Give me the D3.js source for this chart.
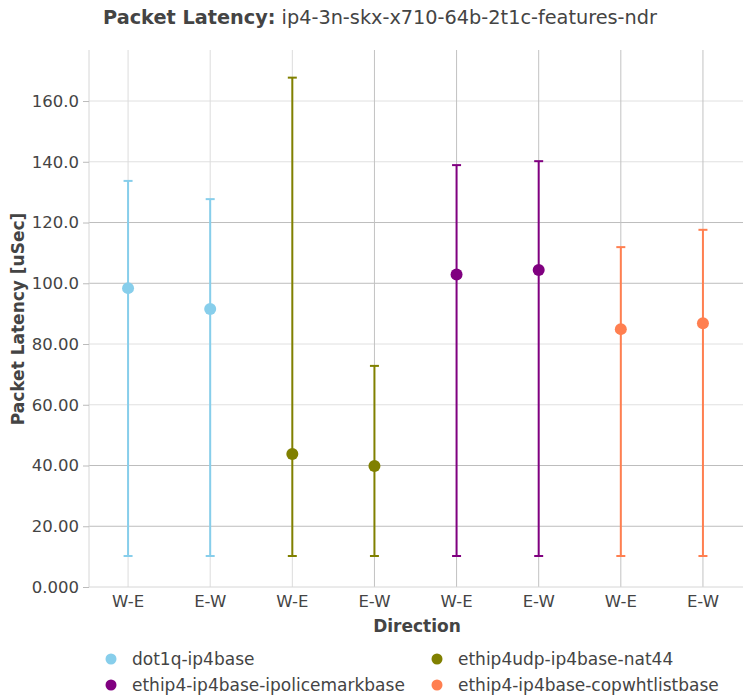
<!DOCTYPE html>
<html>
<head>
<meta charset="utf-8">
<script src="https://cdn.jsdelivr.net/npm/d3@7"></script>
<style>
  html, body { margin: 0; padding: 0; background: #fff; }
  svg { display: block; font-family: "DejaVu Sans", sans-serif; }
</style>
</head>
<body>
<svg id="chart" width="743" height="700"></svg>
<script>
// ---- data ----
const seriesNames = ["dot1q-ip4base", "ethip4udp-ip4base-nat44", "ethip4-ip4base-ipolicemarkbase", "ethip4-ip4base-copwhtlistbase"];
const seriesColors = ["#87CEEB", "#808000", "#800080", "#FF7F50"];
const directions = ["W-E", "E-W"];
const meanValues = [[98.4, 91.5], [43.8, 39.8], [102.9, 104.4], [84.9, 86.8]];
const maxValues = [[133.7, 127.7], [167.7, 72.8], [138.9, 140.2], [111.9, 117.6]];
const minValues = [[10.2, 10.2], [10.2, 10.2], [10.2, 10.2], [10.2, 10.2]];
const yTickValues = [0, 20, 40, 60, 80, 100, 120, 140, 160];
const yTickLabels = ["0.000", "20.00", "40.00", "60.00", "80.00", "100.0", "120.0", "140.0", "160.0"];
const yMax = 176.8;

(function () {
const svg = d3.select("#chart");
const pLeft = 87, pRight = 744, pTop = 50, pBottom = 587;

const points = [];
seriesNames.forEach((s, si) => directions.forEach((d, di) => {
  points.push({ key: si + "-" + di, series: si, dir: d, mean: meanValues[si][di], max: maxValues[si][di], min: minValues[si][di] });
}));

const x = d3.scaleBand().domain(points.map(p => p.key)).range([pLeft, pRight]);
const y = d3.scaleLinear().domain([0, yMax]).range([pBottom, pTop]);

// gridlines
const gy = svg.append("g");
yTickValues.forEach((v, i) => {
  if (v === 0) return;
  gy.append("line").attr("x1", pLeft + 2).attr("x2", pRight).attr("y1", y(v)).attr("y2", y(v))
    .attr("stroke", (i % 4 === 1 || i % 4 === 2) ? "#bdbdbd" : "#e0e0e0").attr("stroke-width", 1);
});
const gx = svg.append("g");
points.forEach((p, i) => {
  const cx = x(p.key) + x.bandwidth() / 2;
  gx.append("line").attr("x1", cx).attr("x2", cx).attr("y1", pTop).attr("y2", pBottom)
    .attr("stroke", i >= 3 ? "#c2c2c2" : "#dcdcdc").attr("stroke-width", 1);
});

// axis lines
svg.append("line").attr("x1", 89).attr("x2", 89).attr("y1", pTop).attr("y2", pBottom).attr("stroke", "#d6d6d6");
svg.append("line").attr("x1", 89).attr("x2", pRight).attr("y1", pBottom).attr("y2", pBottom).attr("stroke", "#d6d6d6");

// y axis
const yAxis = d3.axisLeft(y).tickValues(yTickValues).tickFormat((d, i) => yTickLabels[i]).tickSize(6).tickPadding(4);
const yg = svg.append("g").attr("transform", "translate(89,0)").call(yAxis);
yg.select(".domain").remove();
yg.selectAll(".tick line").attr("stroke", "#bbb");
yg.selectAll(".tick text").attr("fill", "#444").style("font-size", "16.5px").style("font-family", "DejaVu Sans");

// x axis
const xAxis = d3.axisBottom(x).tickFormat(k => points.find(p => p.key === k).dir).tickSize(0).tickPadding(8);
const xg = svg.append("g").attr("transform", `translate(0,${pBottom})`).call(xAxis);
xg.select(".domain").remove();
xg.selectAll(".tick text").attr("fill", "#444").style("font-size", "16.5px").style("font-family", "DejaVu Sans");

// error bars + markers
const marks = svg.append("g");
points.forEach(p => {
  const cx = x(p.key) + x.bandwidth() / 2;
  const c = seriesColors[p.series];
  marks.append("line").attr("x1", cx).attr("x2", cx).attr("y1", y(p.max)).attr("y2", y(p.min)).attr("stroke", c).attr("stroke-width", 2);
  [p.max, p.min].forEach(v => {
    marks.append("line").attr("x1", cx - 4.5).attr("x2", cx + 4.5).attr("y1", y(v)).attr("y2", y(v)).attr("stroke", c).attr("stroke-width", 2);
  });
  marks.append("circle").attr("cx", cx).attr("cy", y(p.mean)).attr("r", 6).attr("fill", c);
});

// title
svg.append("text").attr("x", 380).attr("y", 24).attr("text-anchor", "middle").attr("fill", "#444")
  .style("font-size", "19.3px")
  .call(t => {
    t.append("tspan").attr("font-weight", "bold").text("Packet Latency:");
    t.append("tspan").text(" ip4-3n-skx-x710-64b-2t1c-features-ndr");
  });

// axis titles
svg.append("text").attr("x", 417).attr("y", 632).attr("text-anchor", "middle").attr("fill", "#444")
  .attr("font-weight", "bold").style("font-size", "17px").text("Direction");
svg.append("text").attr("transform", "translate(24,319) rotate(-90)").attr("text-anchor", "middle").attr("fill", "#444")
  .attr("font-weight", "bold").style("font-size", "17px").text("Packet Latency [uSec]");

// legend
const legPos = [[111, 659], [437, 659], [111, 685], [437, 685]];
seriesNames.forEach((s, i) => {
  const [lx, ly] = legPos[i];
  svg.append("circle").attr("cx", lx).attr("cy", ly).attr("r", 5.5).attr("fill", seriesColors[i]);
  svg.append("text").attr("x", lx + 21).attr("y", ly + 6).attr("fill", "#444").style("font-size", "17px").text(s);
});
})();
</script>
</body>
</html>
